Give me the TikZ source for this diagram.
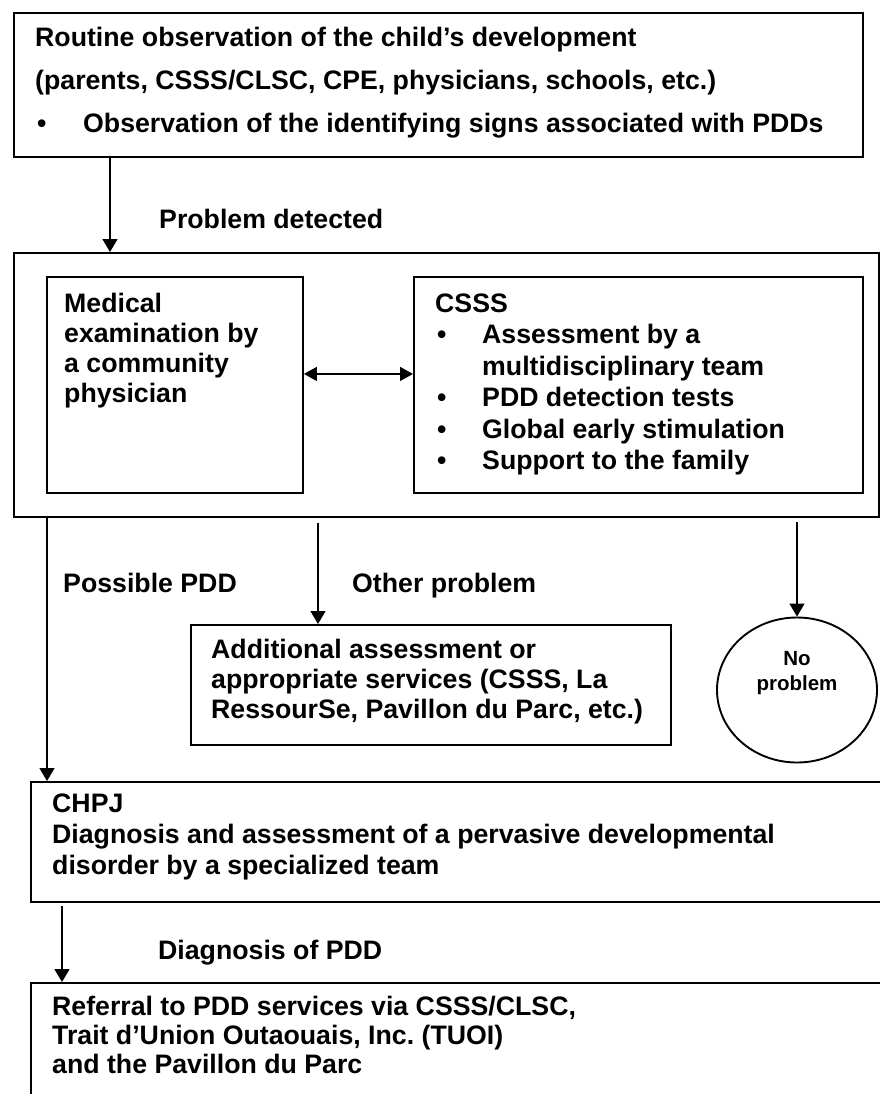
\documentclass[tikz,border=0pt]{standalone}
\usepackage{fontspec}
\setmainfont{Liberation Sans}
\usetikzlibrary{arrows.meta,shapes.geometric}
\frenchspacing
\begin{document}
\begin{tikzpicture}[x=1pt,y=-1pt,
  box/.style={draw=black, line width=1.9pt, inner sep=0pt, anchor=north west},
  txt/.style={anchor=base west, inner sep=0pt, font=\bfseries\fontsize{26.7}{30}\selectfont},
  smalltxt/.style={anchor=base, inner sep=0pt, font=\bfseries\fontsize{20.5}{24}\selectfont},
  arr/.style={line width=1.4pt, -{Triangle[length=13pt,width=15pt]}},
  darr/.style={line width=1.4pt, {Triangle[length=13pt,width=14pt]}-{Triangle[length=13pt,width=14pt]}}]
\useasboundingbox (0,0) rectangle (880,1094);
\clip (0,0) rectangle (880,1094);
\fill[white] (0,0) rectangle (880,1094);

% boxes
\node[box, minimum width=849pt, minimum height=144pt] (top) at (13,12) {};
\node[box, minimum width=865pt, minimum height=264pt] (outer) at (13,252) {};
\node[box, minimum width=256pt, minimum height=216pt] (med) at (46,276) {};
\node[box, minimum width=449pt, minimum height=216pt] (csss) at (413,276) {};
\node[box, minimum width=480pt, minimum height=120pt] (add) at (190,624) {};
\node[draw=black, line width=1.9pt, ellipse, inner sep=0pt, minimum width=160pt, minimum height=145pt] (np) at (797,690) {};
\node[box, minimum width=870pt, minimum height=120pt] (chpj) at (30,781) {};
\node[box, minimum width=870pt, minimum height=140pt] (final) at (30,982) {};

% top box text
\node[txt] (t1) at (35,47) {Routine observation of the child’s development};
\node[txt] (t2) at (35,90) {(parents, CSSS/CLSC, CPE, physicians, schools, etc.)};
\node[txt] (t3b) at (37,133) {•};
\node[txt] (t3) at (83,133) {Observation of the identifying signs associated with PDDs};

% medical box text
\node[txt] (m1) at (64,312) {Medical};
\node[txt] (m2) at (64,342) {examination by};
\node[txt] (m3) at (64,372) {a community};
\node[txt] (m4) at (64,402) {physician};

% CSSS box text
\node[txt] (c0) at (435,312) {CSSS};
\node[txt] (c1b) at (437,343.5) {•};
\node[txt] (c1) at (482,343.5) {Assessment by a};
\node[txt] (c1c) at (482,375) {multidisciplinary team};
\node[txt] (c2b) at (437,406.5) {•};
\node[txt] (c2) at (482,406.5) {PDD detection tests};
\node[txt] (c3b) at (437,438) {•};
\node[txt] (c3) at (482,438) {Global early stimulation};
\node[txt] (c4b) at (437,469.5) {•};
\node[txt] (c4) at (482,469.5) {Support to the family};

% additional box text
\node[txt] (a1) at (211,658) {Additional assessment or};
\node[txt] (a2) at (211,688) {appropriate services (CSSS, La};
\node[txt] (a3) at (211,718) {RessourSe, Pavillon du Parc, etc.)};

% no problem
\node[smalltxt] (n1) at (797,665) {No};
\node[smalltxt] (n2) at (797,690) {problem};

% CHPJ text
\node[txt] (h1) at (52,812) {CHPJ};
\node[txt] (h2) at (52,843) {Diagnosis and assessment of a pervasive developmental};
\node[txt] (h3) at (52,874) {disorder by a specialized team};

% final text
\node[txt] (f1) at (52,1015) {Referral to PDD services via CSSS/CLSC,};
\node[txt] (f2) at (52,1044) {Trait d’Union Outaouais, Inc. (TUOI)};
\node[txt] (f3) at (52,1073) {and the Pavillon du Parc};

% labels
\node[txt] (lpd) at (159,228) {Problem detected};
\node[txt] (lpp) at (63,592) {Possible PDD};
\node[txt] (lop) at (352,592) {Other problem};
\node[txt] (ldp) at (158,959) {Diagnosis of PDD};

% connectors
\draw[arr] ([xshift=97pt]top.south west) -- ([xshift=97pt]outer.north west);
\draw[darr] ([yshift=11pt]med.east) -- ([yshift=11pt]csss.west);
\draw[arr] ([xshift=34pt]outer.south west) -- ([xshift=17pt]chpj.north west);
\draw[arr] ([xshift=305pt,yshift=-5pt]outer.south west) -- ([xshift=128pt]add.north west);
\draw[arr] ([xshift=784pt,yshift=-4pt]outer.south west) -- (np.north);
\draw[arr] ([xshift=32pt,yshift=-3pt]chpj.south west) -- ([xshift=32pt]final.north west);
\end{tikzpicture}
\end{document}
